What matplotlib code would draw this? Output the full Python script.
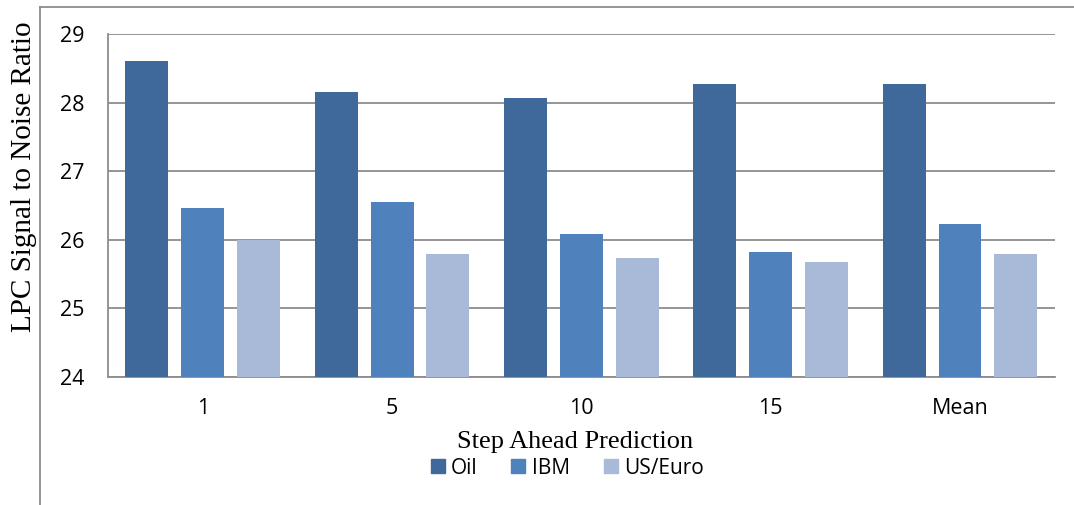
import numpy as np
import matplotlib.pyplot as plt
from matplotlib.lines import Line2D

# data
categories = ["1", "5", "10", "15", "Mean"]
oil = [28.6, 28.15, 28.07, 28.27, 28.27]
ibm = [26.46, 26.55, 26.08, 25.82, 26.23]
us_euro = [26.0, 25.79, 25.73, 25.68, 25.79]
series_names = ["Oil", "IBM", "US/Euro"]
colors = ["#3F699B", "#4F81BD", "#A9B9D8"]

fig = plt.figure(figsize=(10.74, 5.05), dpi=100, facecolor="white")
ax = fig.add_axes([0.1006, 0.2535, 0.8814, 0.6792])

x = np.arange(len(categories))
width = 0.227
step = 0.295
for i, (vals, name) in enumerate(zip([oil, ibm, us_euro], series_names)):
    ax.bar(x + (i - 1) * step, np.array(vals) - 24, width, bottom=24,
           color=colors[i], label=name, zorder=3)

ax.set_xlim(-0.5, len(categories) - 0.5)
ax.set_ylim(24, 29)
ax.set_yticks(range(24, 30))
ax.set_xticks(x)
ax.set_xticklabels(categories)
ax.grid(axis="y", color="#8c8c8c", linewidth=1.3, zorder=0)
for s in ["top", "right"]:
    ax.spines[s].set_visible(False)
for s in ["left", "bottom"]:
    ax.spines[s].set_color("#8c8c8c")
    ax.spines[s].set_linewidth(1.3)
ax.tick_params(axis="y", length=0, pad=17, labelsize=15.5, labelfontfamily="Open Sans")
ax.tick_params(axis="x", length=0, pad=15, labelsize=15.5, labelfontfamily="Open Sans")

fig.text(0.022, 0.651, "LPC Signal to Noise Ratio", rotation=90, va="center", ha="center",
         family="Liberation Serif", fontsize=21)
fig.text(0.535, 0.125, "Step Ahead Prediction", va="center", ha="center",
         family="Liberation Serif", fontsize=19)

handles = [Line2D([], [], marker="s", linestyle="none", markersize=9.5,
                  markerfacecolor=c, markeredgecolor=c) for c in colors]
fig.legend(handles, series_names, loc="center", bbox_to_anchor=(0.527, 0.073),
           ncol=3, frameon=False, prop={"family": "Open Sans", "size": 15},
           handletextpad=0.2, columnspacing=1.5, handlelength=0.9)

# outer chart frame
fig.add_artist(Line2D([40 / 1074, 1], [1 - 7 / 505, 1 - 7 / 505], color="#8c8c8c",
                      linewidth=1.3, transform=fig.transFigure))
fig.add_artist(Line2D([40 / 1074, 40 / 1074], [0, 1 - 7 / 505], color="#8c8c8c",
                      linewidth=1.3, transform=fig.transFigure))

fig.savefig("out.png", dpi=100)
